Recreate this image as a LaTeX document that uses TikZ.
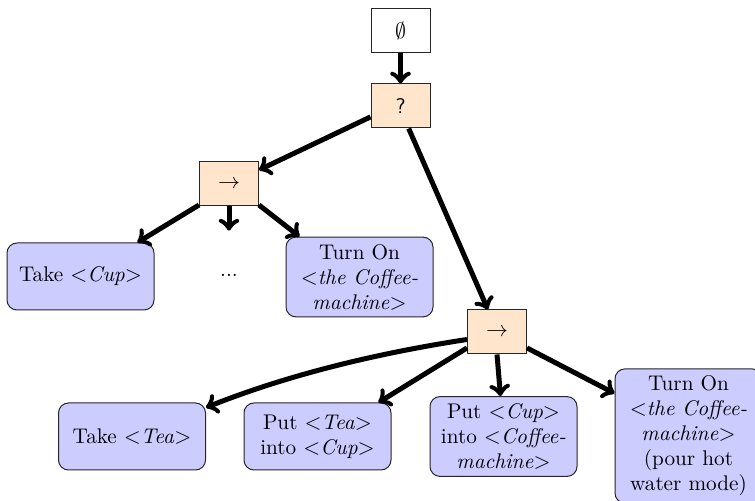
\documentclass[tikz,border=0pt]{standalone}
\usetikzlibrary{calc}
\begin{document}
\begin{tikzpicture}[x=0.5pt,y=-0.5pt,
  every node/.style={font=\fontsize{10.6pt}{12.5pt}\selectfont},
  ctrl/.style={draw=black!85, line width=0.5pt, minimum width=29.5pt,
    minimum height=22pt, inner sep=0pt},
  rootbox/.style={ctrl, fill=white},
  selbox/.style={ctrl, fill=orange!20},
  seqbox/.style={ctrl, fill=orange!20},
  action/.style={draw=black!85, line width=0.5pt, fill=blue!20,
    rounded corners=5pt, align=center, minimum width=73.5pt,
    minimum height=33.5pt, inner xsep=3pt, inner ysep=3.5pt},
  link/.style={->, line width=2.5pt},
]
\useasboundingbox (0,0) rectangle (755,501);

% control-flow nodes
\node[rootbox] (root) at (400.5,31) {$\emptyset$};
\node[selbox]  (sel)  at (400.5,106) {\textsf{?}};
\node[seqbox]  (seqA) at (229,184) {$\rightarrow$};
\node[seqbox]  (seqB) at (497,332) {$\rightarrow$};

% actions of the first sequence
\node[action] (takecup) at (80.5,276.5) {Take $<$\textit{Cup}$>$};
\node[minimum height=44pt, inner sep=0pt] (dots) at (229,275) {...};
\node[action] (turnonA) at (359.5,277)
  {Turn On\\$<$\textit{the Coffee-}\\\textit{machine}$>$};

% actions of the second sequence
\node[action] (taketea) at (132,436.5) {Take $<$\textit{Tea}$>$};
\node[action] (puttea)  at (317.5,436.5) {Put $<$\textit{Tea}$>$\\into $<$\textit{Cup}$>$};
\node[action] (putcup)  at (503.5,436.5)
  {Put $<$\textit{Cup}$>$\\into $<$\textit{Coffee-}\\\textit{machine}$>$};
\node[action] (turnonB) at (688.5,436)
  {Turn On\\$<$\textit{the Coffee-}\\\textit{machine}$>$\\(pour hot\\water mode)};

% connectors
\draw[link] (root.south) -- (sel.north);
\draw[link] (sel.200) -- (seqA.25);
\draw[link] (sel.290) -- (seqB.112);

\draw[link] (seqA.215) -- ([xshift=-8.5pt]takecup.north east);
\draw[link] (seqA.south) -- (dots.north);
\draw[link] (seqA.325) -- ([xshift=7pt]turnonA.north west);

\draw[link] (seqB.194) .. controls (379,353) and (290,374) .. ([yshift=-2.5pt]taketea.north east);
\draw[link] (seqB.208) -- ([xshift=-6.5pt]puttea.north east);
\draw[link] (seqB.south) -- ([xshift=-1.5pt]putcup.north);
\draw[link] (seqB.332) -- ([yshift=-12.5pt]turnonB.north west);
\end{tikzpicture}
\end{document}
